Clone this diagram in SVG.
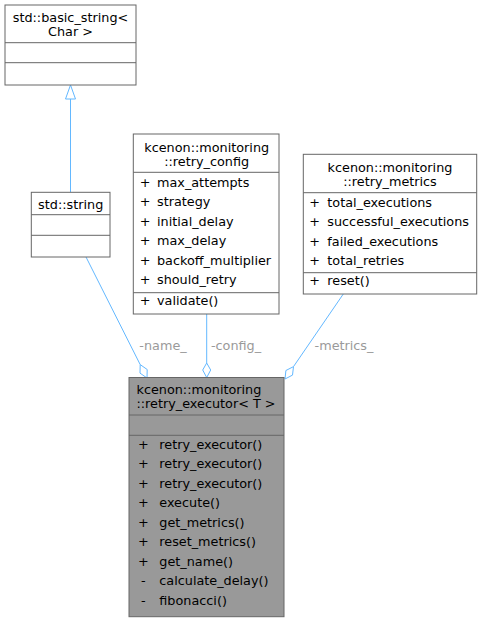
<svg xmlns="http://www.w3.org/2000/svg" width="483" height="623" viewBox="0 0 483 623">
<style>
.box{fill:#ffffff;stroke:#666666;stroke-width:1}
.main{fill:#999999;stroke:#666666;stroke-width:1}
.sep{stroke:#666666;stroke-width:1}
text{font-family:"DejaVu Sans",sans-serif;font-size:12.8px;fill:#000000}
.c{text-anchor:middle}
.lbl{fill:#9a9a9a;text-anchor:middle}
.edge{stroke:#63b8ff;stroke-width:1;fill:none}
.head{stroke:#63b8ff;stroke-width:1;fill:#ffffff}
</style>
<rect width="483" height="623" fill="#ffffff"/>
<g id="connectors">
<path class="edge" d="M70.5,192.3 L70.5,99"/>
<polygon class="head" points="70.5,85 65.5,99 75.5,99"/>
<path class="edge" d="M86,257 L140.2,364.6"/>
<polygon class="head" points="147,378 147.2,369.5 140.2,364.6 140,373.1"/>
<path class="edge" d="M206.7,314 L206.7,363"/>
<polygon class="head" points="206.7,377.5 210.7,370 206.7,363 202.7,370"/>
<path class="edge" d="M343.3,294 L293.5,366.6"/>
<polygon class="head" points="285,379 292.5,375.1 293.5,366.6 285.9,370.5"/>
<text class="lbl" x="163" y="350">-name_</text>
<text class="lbl" x="236" y="350">-config_</text>
<text class="lbl" x="344" y="350">-metrics_</text>
</g>
<g id="basic_string">
<rect class="box" x="5" y="5" width="131" height="80"/>
<line class="sep" x1="5" y1="42.7" x2="136" y2="42.7"/>
<line class="sep" x1="5" y1="62.7" x2="136" y2="62.7"/>
<text class="c" x="70.5" y="21.5">std::basic_string&lt;</text>
<text class="c" x="70.5" y="36">Char &gt;</text>
</g>
<g id="string">
<rect class="box" x="31.3" y="192.3" width="78.7" height="64.7"/>
<line class="sep" x1="31.3" y1="214.7" x2="110" y2="214.7"/>
<line class="sep" x1="31.3" y1="235.3" x2="110" y2="235.3"/>
<text class="c" x="70.7" y="208.5">std::string</text>
</g>
<g id="retry_config">
<rect class="box" x="133.3" y="134" width="145.7" height="180"/>
<line class="sep" x1="133.3" y1="172.3" x2="279" y2="172.3"/>
<line class="sep" x1="133.3" y1="292.7" x2="279" y2="292.7"/>
<text class="c" x="206.7" y="151.5">kcenon::monitoring</text>
<text class="c" x="206.7" y="166">::retry_config</text>
<text class="c" x="145" y="186.5">+</text><text x="157" y="186.5">max_attempts</text>
<text class="c" x="145" y="206">+</text><text x="157" y="206">strategy</text>
<text class="c" x="145" y="225.5">+</text><text x="157" y="225.5">initial_delay</text>
<text class="c" x="145" y="245">+</text><text x="157" y="245">max_delay</text>
<text class="c" x="145" y="264.5">+</text><text x="157" y="264.5">backoff_multiplier</text>
<text class="c" x="145" y="284">+</text><text x="157" y="284">should_retry</text>
<text class="c" x="145" y="304.5">+</text><text x="157" y="304.5">validate()</text>
</g>
<g id="retry_metrics">
<rect class="box" x="303.3" y="154.3" width="173.4" height="139.7"/>
<line class="sep" x1="303.3" y1="192.7" x2="476.7" y2="192.7"/>
<line class="sep" x1="303.3" y1="272.7" x2="476.7" y2="272.7"/>
<text class="c" x="390" y="171.5">kcenon::monitoring</text>
<text class="c" x="390" y="186">::retry_metrics</text>
<text class="c" x="314.5" y="206.5">+</text><text x="327.3" y="206.5">total_executions</text>
<text class="c" x="314.5" y="226">+</text><text x="327.3" y="226">successful_executions</text>
<text class="c" x="314.5" y="245.5">+</text><text x="327.3" y="245.5">failed_executions</text>
<text class="c" x="314.5" y="265">+</text><text x="327.3" y="265">total_retries</text>
<text class="c" x="314.5" y="284.5">+</text><text x="327.3" y="284.5">reset()</text>
</g>
<g id="retry_executor">
<rect class="main" x="129" y="377.5" width="155" height="239.2"/>
<line class="sep" x1="129" y1="415" x2="284" y2="415"/>
<line class="sep" x1="129" y1="435.3" x2="284" y2="435.3"/>
<text x="136.5" y="393.5">kcenon::monitoring</text>
<text x="136.5" y="408">::retry_executor&lt; T &gt;</text>
<text class="c" x="143.3" y="448.5">+</text><text x="159.3" y="448.5">retry_executor()</text>
<text class="c" x="143.3" y="468">+</text><text x="159.3" y="468">retry_executor()</text>
<text class="c" x="143.3" y="487.5">+</text><text x="159.3" y="487.5">retry_executor()</text>
<text class="c" x="143.3" y="507">+</text><text x="159.3" y="507">execute()</text>
<text class="c" x="143.3" y="526.5">+</text><text x="159.3" y="526.5">get_metrics()</text>
<text class="c" x="143.3" y="546">+</text><text x="159.3" y="546">reset_metrics()</text>
<text class="c" x="143.3" y="565.5">+</text><text x="159.3" y="565.5">get_name()</text>
<text class="c" x="143.3" y="585">-</text><text x="159.3" y="585">calculate_delay()</text>
<text class="c" x="143.3" y="604.5">-</text><text x="159.3" y="604.5">fibonacci()</text>
</g>
</svg>
